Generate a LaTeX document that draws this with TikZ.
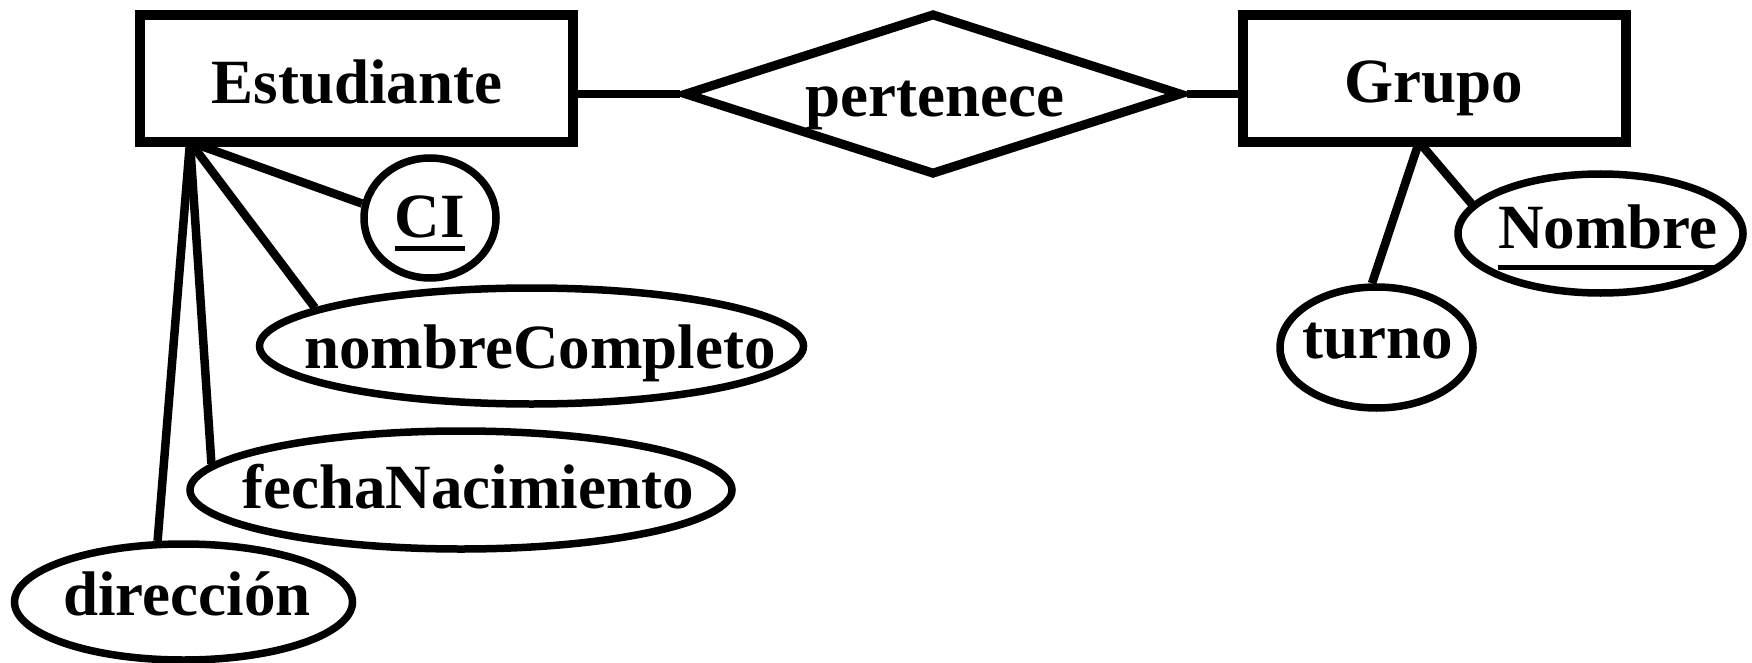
\documentclass[tikz,border=0pt]{standalone}
\usepackage{fontspec}
\setmainfont{Liberation Serif}
\usetikzlibrary{shapes.geometric}
\newcommand\bigfnt{\fontsize{63pt}{70pt}\selectfont\bfseries}
\newcommand\keyattr[2]{\setbox0=\hbox{#2}\rlap{\rule[-#1]{\wd0}{5pt}}\box0}
\tikzset{
  ent/.style={draw, rectangle, line width=9.5pt, inner sep=0pt},
  rel/.style={draw, diamond, line width=9pt, inner sep=0pt, miter limit=10},
  attr/.style={draw, ellipse, line width=7.5pt, inner sep=0pt},
  lbl/.style={anchor=base, inner sep=0pt, font=\bigfnt},
  link/.style={line width=8.5pt},
}
\begin{document}
\begin{tikzpicture}[x=1pt,y=-1pt]
\useasboundingbox (0,0) rectangle (1752,663);
% entities
\node[ent, minimum width=433pt, minimum height=127pt] (est) at (356.5,78.5) {};
\node[lbl] (estT) at (357,104) {Estudiante};
\node[ent, minimum width=383pt, minimum height=127pt] (gru) at (1434.5,78.5) {};
\node[lbl] (gruT) at (1434,103) {Grupo};
% relationship
\node[rel, minimum width=498pt, minimum height=162pt] (rel) at (933,94) {};
\node[lbl] (relT) at (935,117) {pertenece};
% attributes
\node[attr, minimum width=132pt, minimum height=120pt] (ci) at (430,218) {};
\node[lbl] (ciT) at (430,237) {\keyattr{14pt}{CI}};
\node[attr, minimum width=544pt, minimum height=116pt] (nc) at (531.5,346) {};
\node[lbl] (ncT) at (540,368) {nombreCompleto};
\node[attr, minimum width=542pt, minimum height=118pt] (fn) at (461,490) {};
\node[lbl] (fnT) at (468,508) {fechaNacimiento};
\node[attr, minimum width=338pt, minimum height=116pt] (dir) at (183.5,602) {};
\node[lbl] (dirT) at (187,615) {dirección};
\node[attr, minimum width=285pt, minimum height=119pt] (nom) at (1600.5,233.5) {};
\node[lbl] (nomT) at (1608,248) {\keyattr{22pt}{Nombre}};
\node[attr, minimum width=193pt, minimum height=121pt] (tur) at (1376.5,347.5) {};
\node[lbl] (turT) at (1378,358) {turno};
% connection points
\coordinate (ea) at (190,142);
\coordinate (ga) at (1419,142);
% connectors
\draw[link] (est.east |- rel.west) -- (rel.west);
\draw[link] (rel.east) -- (gru.west |- rel.east);
\draw[link] (ea) -- (ci.168);
\draw[link] (ea) -- (nc.170.8);
\draw[link] (ea) -- (fn.174);
\draw[link] (ea) -- (dir.113);
\draw[link] (ga) -- (tur.94);
\draw[link] (ga) -- (nom.167.8);
\end{tikzpicture}
\end{document}
